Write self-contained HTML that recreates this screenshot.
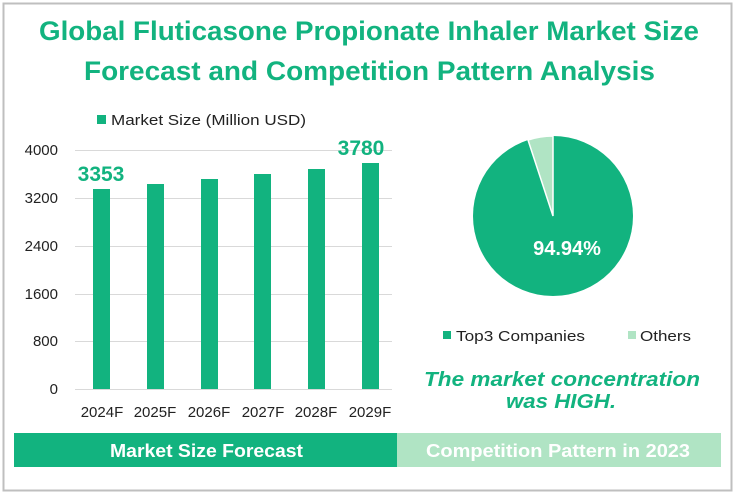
<!DOCTYPE html>
<html><head><meta charset="utf-8"><style>
body{margin:0;background:#fff;}
svg{display:block;font-family:"Liberation Sans","DejaVu Sans",sans-serif;}
</style></head><body>
<svg width="738" height="496" viewBox="0 0 738 496" xmlns="http://www.w3.org/2000/svg">
<rect x="0" y="0" width="738" height="496" fill="#fff"/>
<rect x="3.5" y="3.5" width="728" height="487" fill="none" stroke="#bfbfbf" stroke-width="2"/>
<g font-weight="bold" fill="#12b37f" font-size="27">
<text x="39" y="40" textLength="660" lengthAdjust="spacingAndGlyphs">Global Fluticasone Propionate Inhaler Market Size</text>
<text x="84" y="80" textLength="571" lengthAdjust="spacingAndGlyphs">Forecast and Competition Pattern Analysis</text>
</g>
<rect x="97" y="115" width="9" height="9" fill="#12b37f"/>
<text x="111" y="125" font-size="15" fill="#222" textLength="195" lengthAdjust="spacingAndGlyphs">Market Size (Million USD)</text>
<g stroke="#d9d9d9" stroke-width="1">
<line x1="75" y1="150.5" x2="392" y2="150.5"/><line x1="75" y1="198.5" x2="392" y2="198.5"/>
<line x1="75" y1="246.5" x2="392" y2="246.5"/><line x1="75" y1="294.5" x2="392" y2="294.5"/>
<line x1="75" y1="341.5" x2="392" y2="341.5"/><line x1="75" y1="389.5" x2="392" y2="389.5"/>
</g>
<g font-size="15" fill="#222" text-anchor="end">
<text x="58" y="155">4000</text><text x="58" y="203">3200</text><text x="58" y="251">2400</text>
<text x="58" y="299">1600</text><text x="58" y="346">800</text><text x="58" y="394">0</text>
</g>
<g fill="#12b37f">
<rect x="93" y="189" width="17" height="200"/>
<rect x="147" y="184" width="17" height="205"/>
<rect x="201" y="179" width="17" height="210"/>
<rect x="254" y="174" width="17" height="215"/>
<rect x="308" y="169" width="17" height="220"/>
<rect x="362" y="163" width="17" height="226"/>
</g>
<g font-size="15" fill="#222" text-anchor="middle">
<text x="102" y="417">2024F</text><text x="155" y="417">2025F</text><text x="209" y="417">2026F</text>
<text x="263" y="417">2027F</text><text x="316" y="417">2028F</text><text x="370" y="417">2029F</text>
</g>
<g font-size="21" font-weight="bold" fill="#12b37f" text-anchor="middle">
<text x="101" y="181">3353</text><text x="361" y="155">3780</text>
</g>
<circle cx="553" cy="216" r="80" fill="#12b37f"/>
<path d="M553,216 L553,136 A80,80 0 0 0 528,140 Z" fill="#b0e4c4" stroke="#fff" stroke-width="1.5"/>
<text x="567" y="255" font-size="20" font-weight="bold" fill="#fff" text-anchor="middle">94.94%</text>
<rect x="443" y="331" width="8" height="8" fill="#12b37f"/>
<text x="456" y="341" font-size="15" fill="#222" textLength="129" lengthAdjust="spacingAndGlyphs">Top3 Companies</text>
<rect x="628" y="331" width="8" height="8" fill="#b0e4c4"/>
<text x="640" y="341" font-size="15" fill="#222" textLength="51" lengthAdjust="spacingAndGlyphs">Others</text>
<g font-size="20" font-weight="bold" font-style="italic" fill="#12b37f">
<text x="424" y="386" textLength="276" lengthAdjust="spacingAndGlyphs">The market concentration</text>
<text x="506" y="408" textLength="110" lengthAdjust="spacingAndGlyphs">was HIGH.</text>
</g>
<rect x="14" y="433" width="383" height="34" fill="#12b37f"/>
<rect x="397" y="433" width="324" height="34" fill="#b0e4c4"/>
<g font-size="18" font-weight="bold" fill="#fff">
<text x="110" y="457" textLength="193" lengthAdjust="spacingAndGlyphs">Market Size Forecast</text>
<text x="426" y="457" textLength="264" lengthAdjust="spacingAndGlyphs">Competition Pattern in 2023</text>
</g>
</svg>
</body></html>
